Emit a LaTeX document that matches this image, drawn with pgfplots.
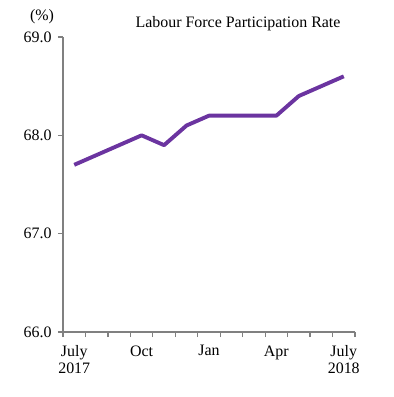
\documentclass[border=0pt]{standalone}
\usepackage{pgfplots}
\pgfplotsset{compat=1.18}
\usepackage{fontspec}
\setmainfont{Liberation Serif}
\definecolor{lfpr}{HTML}{6B34A0}
\definecolor{axgray}{HTML}{808080}
\begin{document}
\fontsize{16}{19}\selectfont
\begin{tikzpicture}[x=1bp,y=1bp]
\useasboundingbox (0,0) rectangle (394,397);
\begin{axis}[
  at={(63bp,65bp)}, anchor=south west,
  scale only axis, width=292bp, height=295bp,
  xmin=-0.5, xmax=12.5, ymin=66, ymax=69,
  axis x line*=bottom, axis y line*=left,
  axis line style={axgray, line width=1.3bp},
  every tick/.style={axgray, line width=1.3bp},
  tick align=outside,
  xtick={0,3,6,9,12},
  xticklabels={July\\2017, Oct, Jan, Apr, July\\2018},
  xticklabel style={align=center, font=\fontsize{16}{17}\selectfont, yshift=-3bp},
  major x tick style={draw=none},
  minor xtick={-0.5,0.5,...,12.5},
  minor tick length=5bp,
  major tick length=5bp,
  ytick={66,67,68,69},
  yticklabel style={font=\fontsize{16}{19}\selectfont, xshift=-1bp},
  /pgf/number format/assume math mode=true,
  /pgf/number format/fixed, /pgf/number format/fixed zerofill,
  /pgf/number format/precision=1,
  clip=false,
]
\addplot[lfpr, line width=3.9bp, line join=round] coordinates {
(0,67.7) (1,67.8) (2,67.9) (3,68.0) (4,67.9) (5,68.1) (6,68.2)
(7,68.2) (8,68.2) (9,68.2) (10,68.4) (11,68.5) (12,68.6)};
\end{axis}
\node[anchor=base] at (238,370) {Labour Force Participation Rate};
\node[anchor=base] at (42,377) {(\%)};
\end{tikzpicture}
\end{document}
